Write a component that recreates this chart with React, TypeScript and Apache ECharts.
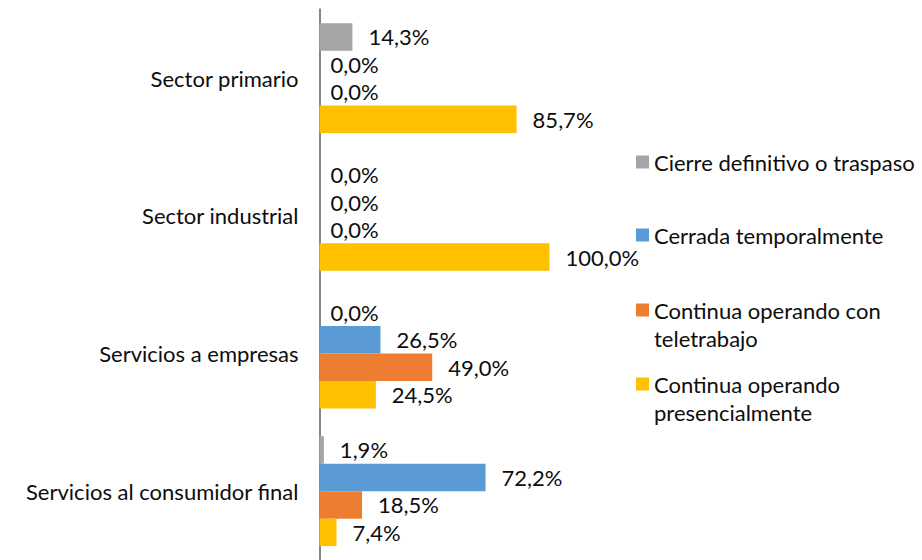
import React, { useEffect, useRef } from "react";
import * as echarts from "echarts";

const categories = [
  "Sector primario",
  "Sector industrial",
  "Servicios a empresas",
  "Servicios al consumidor final",
];
const seriesNames = [
  "Cierre definitivo o traspaso",
  "Cerrada temporalmente",
  "Continua operando con teletrabajo",
  "Continua operando presencialmente",
];
const legendLines = [
  "Cierre definitivo o traspaso",
  "Cerrada temporalmente",
  "Continua operando con\nteletrabajo",
  "Continua operando\npresencialmente",
];
const cierre = [14.3, 0.0, 0.0, 1.9];
const cerrada = [0.0, 0.0, 26.5, 72.2];
const teletrabajo = [0.0, 0.0, 49.0, 18.5];
const presencial = [85.7, 100.0, 24.5, 7.4];
const seriesValues = [cierre, cerrada, teletrabajo, presencial];
const colors = ["#A5A5A5", "#5B9BD5", "#ED7D31", "#FFC000"];

const FONT = "Lato";
const FS = 22;
const TXT = "#0d0d0d";

// square at top, invisible zero-length segment below so icon sits on the first text line
const TALL_ICON = "path://M0,0L13,0L13,13L0,13Z M0,41L0,41";

export default function App() {
  const ref = useRef<HTMLDivElement>(null);
  useEffect(() => {
    if (!ref.current) return;
    const chart = echarts.init(ref.current, undefined, { renderer: "svg" });
    const legendTops = [148, 221, 296, 370];
    const option: any = {
      animation: false,
      backgroundColor: "#ffffff",
      grid: { left: 319.5, top: 9.3, width: 230, height: 555.6, containLabel: false },
      xAxis: {
        type: "value",
        min: 0,
        max: 100,
        show: false,
        splitLine: { show: false },
      },
      yAxis: {
        type: "category",
        data: categories,
        inverse: true,
        axisLine: { show: true, lineStyle: { color: "#868686", width: 2 } },
        axisTick: { show: false },
        axisLabel: {
          color: TXT,
          fontFamily: FONT,
          fontSize: FS,
          margin: 21,
        },
      },
      legend: seriesNames.map((n, i) => ({
        data: [n],
        left: 636,
        top: legendTops[i],
        padding: 0,
        orient: "vertical",
        icon: i >= 2 ? TALL_ICON : "rect",
        itemWidth: 13,
        itemHeight: i >= 2 ? 41 : 13,
        itemGap: 5,
        selectedMode: false,
        formatter: () => legendLines[i],
        textStyle: {
          color: TXT,
          fontFamily: FONT,
          fontSize: FS,
          lineHeight: 28,
        },
      })),
      series: seriesNames.map((n, i) => ({
        name: n,
        type: "bar",
        barGap: "0%",
        barCategoryGap: "20.2%",
        itemStyle: { color: colors[i] },
        data: seriesValues[i].map((v) => ({
          value: v,
          label: { distance: v === 0 ? 11 : 16 },
        })),
        label: {
          show: true,
          position: "right",
          color: TXT,
          fontFamily: FONT,
          fontSize: FS,
          formatter: (p: any) => p.value.toFixed(1).replace(".", ",") + "%",
        },
      })),
    };
    chart.setOption(option);
    return () => chart.dispose();
  }, []);
  return (
    <div
      ref={ref}
      style={{ position: "absolute", left: 0, top: 0, width: 922, height: 560 }}
    />
  );
}
